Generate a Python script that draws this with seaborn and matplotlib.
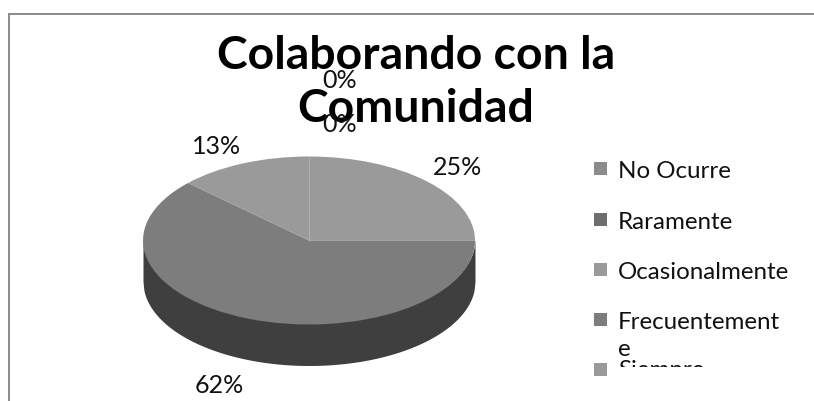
#!/usr/bin/env python3
"""Pseudo-3D pie of 'Colaborando con la Comunidad'."""

import matplotlib.pyplot as plt
from matplotlib.patches import Rectangle
import numpy as np
import seaborn as sns

CATEGORIES = ["No Ocurre", "Raramente", "Ocasionalmente", "Frecuentemente", "Siempre"]
VALUES = [0, 0, 25, 62, 13]
TITLE_LINES = ["Colaborando con la", "Comunidad"]

sns.set_theme(style="white")
plt.rcParams["font.family"] = ["Lato", "DejaVu Sans"]

W, H = 814, 402
CX, CY, RX, RY, DEPTH = 309, 241.5, 166, 84, 41
TOP_COLORS = sns.color_palette(["#8c8c8c", "#6e6e6e", "#9a9a9a", "#7d7d7d", "#9a9a9a"])
SIDE_COLOR = "#3f3f3f"
LABEL_POS = [(340, 81), (340, 124), (458, 168), (219, 386), (217, 147)]
LEGEND_Y = [170, 221, 271, 321, 371]
LEGEND_TEXT_Y = [172, 223, 273, 312, 371]

fig = plt.figure(figsize=(W / 100, H / 100), dpi=100)

# Pie axes: one data unit is the ellipse radius on each axis
ax = fig.add_axes([0, 0, 1, 1])
edge_x = np.linspace(-1, 1, 400)
edge_y = -np.sqrt(1 - edge_x ** 2)
ax.fill_between(edge_x, edge_y + 0.02, edge_y - DEPTH / RY, color=SIDE_COLOR, lw=0)
ax.pie(VALUES, colors=TOP_COLORS, startangle=90, counterclock=False,
       wedgeprops={"linewidth": 0})
ax.plot([0, 0], [0, 1], color="#b4b4b4", lw=0.6)
ax.set_aspect("auto")
ax.set_xlim(-CX / RX, (W - CX) / RX)
ax.set_ylim((CY - H) / RY, CY / RY)
ax.axis("off")

# Overlay in pixel coordinates for frame, text and legend
over = fig.add_axes([0, 0, 1, 1], facecolor="none")
over.set_xlim(0, W)
over.set_ylim(H, 0)
over.axis("off")
over.plot([9, 9, W], [H, 15, 15], color="#8a8a8a", lw=1.4, solid_joinstyle="miter")

for line, base in zip(TITLE_LINES, [69, 122]):
    over.text(416, base, line, fontsize=33.4, fontweight="bold", color="black",
              ha="center", va="baseline")

for val, (x, y) in zip(VALUES, LABEL_POS):
    over.text(x, y, f"{val}%", fontsize=18, color="#111111", ha="center", va="center")

LEGEND_TEXT = list(CATEGORIES)
LEGEND_TEXT[3] = "Frecuentement\ne"
clip = Rectangle((0, 0), W, 367.5, transform=over.transData)
for name, color, y, text_y in zip(LEGEND_TEXT, TOP_COLORS, LEGEND_Y, LEGEND_TEXT_Y):
    over.add_patch(Rectangle((594, y - 7), 13, 13, color=color, lw=0))
    t = over.text(618, text_y, name, fontsize=17.4, color="#111111", ha="left",
                  va="top" if "\n" in name else "center", linespacing=1.35)
    t.set_clip_path(clip)
    t.set_clip_on(True)

fig.savefig("out.png", dpi=100)
